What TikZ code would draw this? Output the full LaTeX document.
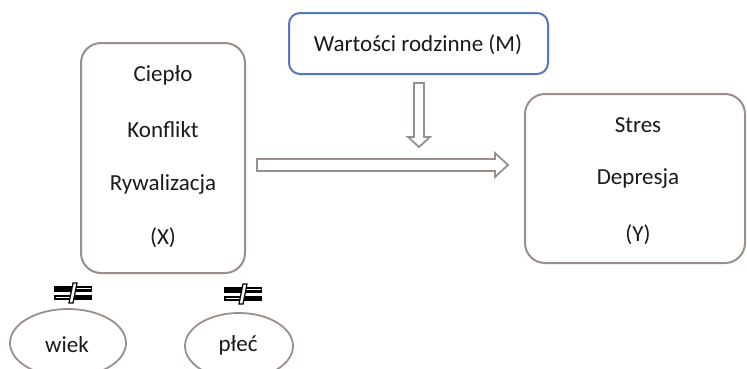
\documentclass[tikz,border=0pt]{standalone}
\usepackage{fontspec}
\setmainfont{Carlito}
\usetikzlibrary{shapes.geometric}
\definecolor{edge}{HTML}{9A8F8A}
\definecolor{blueedge}{HTML}{5577C0}
\definecolor{txt}{HTML}{1A1A1A}
\tikzset{
  box/.style={draw=edge, line width=2pt, rounded corners=20pt, inner sep=0pt},
  mbox/.style={draw=blueedge, line width=2pt, rounded corners=11pt, inner sep=0pt},
  lbl/.style={text=txt, font=\fontsize{23}{27}\selectfont, inner sep=0pt, anchor=center},
  oval/.style={ellipse, draw=edge, line width=1.8pt, inner sep=0pt},
  hollow/.style={draw=edge, line width=1.8pt, fill=white, line join=miter},
  noteq/.pic={
    \fill[black] (-19,-7) rectangle (19,-1.5);
    \fill[black] (-19,1.5) rectangle (19,7);
    \fill[white] (-1.5,-4.8) rectangle (17.5,-3.7);
    \fill[white] (-17.5,3.7) rectangle (1.5,4.8);
    \filldraw[fill=white, draw=black, line width=1.2pt] (-4,10) -- (0,10) -- (4,-10) -- (0,-10) -- cycle;
  }
}
\begin{document}
\begin{tikzpicture}[x=1pt, y=-1pt]
\useasboundingbox[fill=white] (0,0) rectangle (747,368);
% boxes
\node[box, minimum width=164pt, minimum height=230pt] (X) at (163,158) {};
\node[box, minimum width=220pt, minimum height=169pt] (Y) at (635,178.5) {};
\node[mbox, minimum width=259pt, minimum height=61pt] (M) at (418.5,43.5) {};
% texts
\node[lbl] (x1) at (163,75) {Ciepło};
\node[lbl] (x2) at (163,130) {Konflikt};
\node[lbl] (x3) at (163,184) {Rywalizacja};
\node[lbl] (x4) at (163,238) {(X)};
\node[lbl] (y1) at (638,125) {Stres};
\node[lbl] (y2) at (638,179) {Depresja};
\node[lbl] (y3) at (638,235) {(Y)};
\node[lbl] (m1) at (418,45) {Wartości rodzinne (M)};
% ellipses
\node[oval, minimum width=116pt, minimum height=68pt] (wiek) at (68,343) {};
\node[lbl] (wiekt) at (67,345) {wiek};
\node[oval, minimum width=108pt, minimum height=66pt] (plec) at (239,346) {};
\node[lbl] (plect) at (238,345) {płeć};
% not-equal symbols
\pic (ne1) at (73,293) {noteq};
\pic (ne2) at (243,294) {noteq};
% hollow arrows (X -> Y)
\coordinate (hs) at (257,165);
\coordinate (ht) at (508,165);
\draw[hollow] (hs |- 0,159) -- (495,159) -- (495,153) -- (ht) -- (495,177) -- (495,171) -- (hs |- 0,171) -- cycle;
% hollow arrow (M -> main path)
\coordinate (vs) at (419,83);
\coordinate (vt) at (419,147);
\draw[hollow] (414,0 |- vs) -- (414,137) -- (408,137) -- (vt) -- (430,137) -- (424,137) -- (424,0 |- vs) -- cycle;
\end{tikzpicture}
\end{document}
